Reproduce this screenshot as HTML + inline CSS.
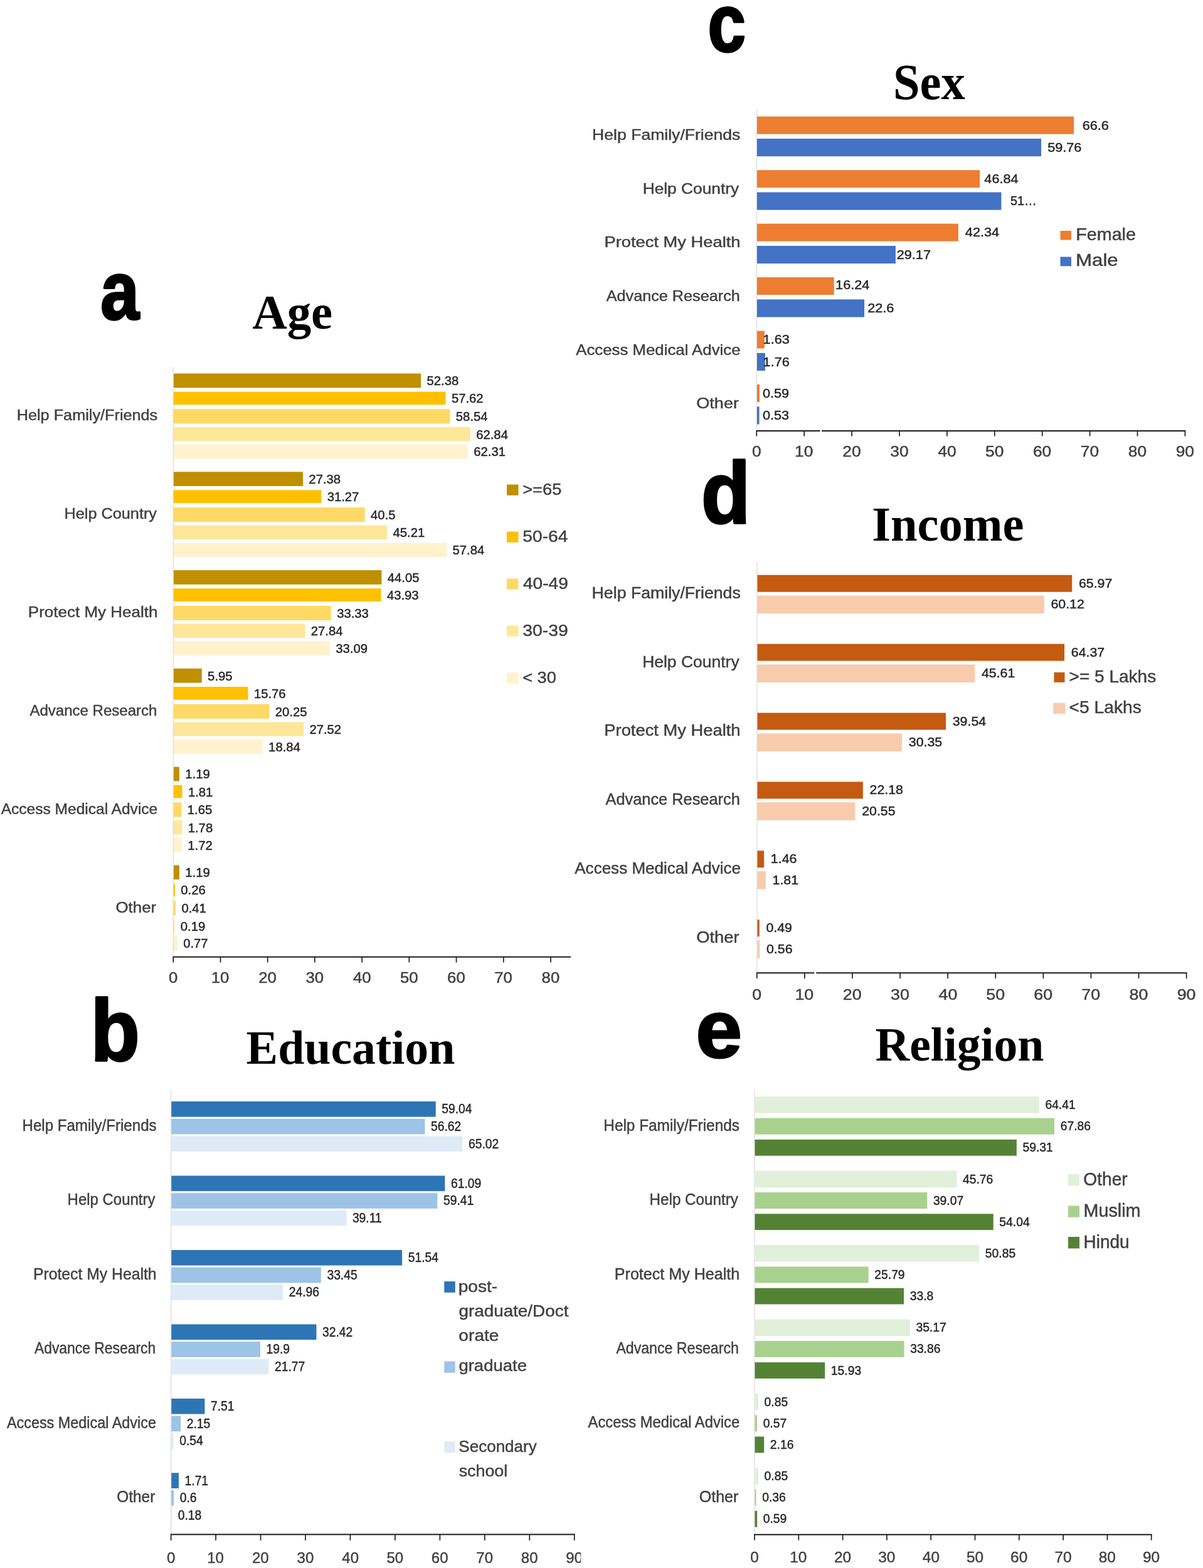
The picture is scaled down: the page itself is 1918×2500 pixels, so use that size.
<!DOCTYPE html>
<html lang="en">
<head>
<meta charset="utf-8">
<title>Figure: reasons by Age, Education, Sex, Income, Religion</title>
<style>
html,body{margin:0;padding:0;background:#fff;}
body{width:1918px;height:2500px;overflow:hidden;}
svg{display:block;}
text{white-space:pre;}
.sans{font-family:"Liberation Sans",sans-serif;stroke-width:0.45px;stroke-linejoin:round;}
.sansb{font-family:"Liberation Sans",sans-serif;font-weight:bold;}
.serifb{font-family:"Liberation Serif",serif;font-weight:bold;}
</style>
</head>
<body>
<svg width="1918" height="2500" viewBox="0 0 1918 2500">
<rect x="0" y="0" width="1918" height="2500" fill="#ffffff"/>
<g>
<line x1="276.25" y1="585" x2="276.25" y2="1525.75" stroke="#d9d9dc" stroke-width="1.2"/>
<rect x="277" y="595.5" width="394.11" height="22.75" fill="#BF8F00"/>
<text class="sans" transform="matrix(1.0279 0 0 1 680.5 614.28)" font-size="19.72" fill="#262626" stroke="#262626">52.38</text>
<rect x="277" y="624.6" width="433.54" height="20.7" fill="#FFC000"/>
<text class="sans" transform="matrix(1.0279 0 0 1 719.93 642.35)" font-size="19.72" fill="#262626" stroke="#262626">57.62</text>
<rect x="277" y="652.25" width="440.46" height="23.2" fill="#FFD966"/>
<text class="sans" transform="matrix(1.0279 0 0 1 726.85 671.25)" font-size="19.72" fill="#262626" stroke="#262626">58.54</text>
<rect x="277" y="680.9" width="472.82" height="22.4" fill="#FFE699"/>
<text class="sans" transform="matrix(1.0279 0 0 1 759.21 699.5)" font-size="19.72" fill="#262626" stroke="#262626">62.84</text>
<rect x="277" y="708.8" width="468.83" height="22.5" fill="#FFF2CC"/>
<text class="sans" transform="matrix(1.0279 0 0 1 755.22 727.45)" font-size="19.72" fill="#262626" stroke="#262626">62.31</text>
<rect x="277" y="752.3" width="205.98" height="22.75" fill="#BF8F00"/>
<text class="sans" transform="matrix(1.0279 0 0 1 492.37 771.08)" font-size="19.72" fill="#262626" stroke="#262626">27.38</text>
<rect x="277" y="781.4" width="235.26" height="20.7" fill="#FFC000"/>
<text class="sans" transform="matrix(1.0279 0 0 1 521.65 799.15)" font-size="19.72" fill="#262626" stroke="#262626">31.27</text>
<rect x="277" y="809.05" width="304.71" height="23.2" fill="#FFD966"/>
<text class="sans" transform="matrix(1.0279 0 0 1 591.1 828.05)" font-size="19.72" fill="#262626" stroke="#262626">40.5</text>
<rect x="277" y="837.7" width="340.16" height="22.4" fill="#FFE699"/>
<text class="sans" transform="matrix(1.0279 0 0 1 626.54 856.3)" font-size="19.72" fill="#262626" stroke="#262626">45.21</text>
<rect x="277" y="865.6" width="435.2" height="22.5" fill="#FFF2CC"/>
<text class="sans" transform="matrix(1.0279 0 0 1 721.59 884.25)" font-size="19.72" fill="#262626" stroke="#262626">57.84</text>
<rect x="277" y="909.1" width="331.43" height="22.75" fill="#BF8F00"/>
<text class="sans" transform="matrix(1.0279 0 0 1 617.82 927.88)" font-size="19.72" fill="#262626" stroke="#262626">44.05</text>
<rect x="277" y="938.2" width="330.52" height="20.7" fill="#FFC000"/>
<text class="sans" transform="matrix(1.0279 0 0 1 616.91 955.95)" font-size="19.72" fill="#262626" stroke="#262626">43.93</text>
<rect x="277" y="965.85" width="250.76" height="23.2" fill="#FFD966"/>
<text class="sans" transform="matrix(1.0279 0 0 1 537.15 984.85)" font-size="19.72" fill="#262626" stroke="#262626">33.33</text>
<rect x="277" y="994.5" width="209.45" height="22.4" fill="#FFE699"/>
<text class="sans" transform="matrix(1.0279 0 0 1 495.84 1013.1)" font-size="19.72" fill="#262626" stroke="#262626">27.84</text>
<rect x="277" y="1022.4" width="248.95" height="22.5" fill="#FFF2CC"/>
<text class="sans" transform="matrix(1.0279 0 0 1 535.34 1041.05)" font-size="19.72" fill="#262626" stroke="#262626">33.09</text>
<rect x="277" y="1065.9" width="44.72" height="22.75" fill="#BF8F00"/>
<text class="sans" transform="matrix(1.0279 0 0 1 331.11 1084.68)" font-size="19.72" fill="#262626" stroke="#262626">5.95</text>
<rect x="277" y="1095" width="118.54" height="20.7" fill="#FFC000"/>
<text class="sans" transform="matrix(1.0279 0 0 1 404.93 1112.75)" font-size="19.72" fill="#262626" stroke="#262626">15.76</text>
<rect x="277" y="1122.65" width="152.33" height="23.2" fill="#FFD966"/>
<text class="sans" transform="matrix(1.0279 0 0 1 438.72 1141.65)" font-size="19.72" fill="#262626" stroke="#262626">20.25</text>
<rect x="277" y="1151.3" width="207.04" height="22.4" fill="#FFE699"/>
<text class="sans" transform="matrix(1.0279 0 0 1 493.43 1169.9)" font-size="19.72" fill="#262626" stroke="#262626">27.52</text>
<rect x="277" y="1179.2" width="141.72" height="22.5" fill="#FFF2CC"/>
<text class="sans" transform="matrix(1.0279 0 0 1 428.11 1197.85)" font-size="19.72" fill="#262626" stroke="#262626">18.84</text>
<rect x="277" y="1222.7" width="8.9" height="22.75" fill="#BF8F00"/>
<text class="sans" transform="matrix(1.0279 0 0 1 295.29 1241.48)" font-size="19.72" fill="#262626" stroke="#262626">1.19</text>
<rect x="277" y="1251.8" width="13.57" height="20.7" fill="#FFC000"/>
<text class="sans" transform="matrix(1.0279 0 0 1 299.96 1269.55)" font-size="19.72" fill="#262626" stroke="#262626">1.81</text>
<rect x="277" y="1279.45" width="12.37" height="23.2" fill="#FFD966"/>
<text class="sans" transform="matrix(1.0279 0 0 1 298.76 1298.45)" font-size="19.72" fill="#262626" stroke="#262626">1.65</text>
<rect x="277" y="1308.1" width="13.34" height="22.4" fill="#FFE699"/>
<text class="sans" transform="matrix(1.0279 0 0 1 299.73 1326.7)" font-size="19.72" fill="#262626" stroke="#262626">1.78</text>
<rect x="277" y="1336" width="12.89" height="22.5" fill="#FFF2CC"/>
<text class="sans" transform="matrix(1.0279 0 0 1 299.28 1354.65)" font-size="19.72" fill="#262626" stroke="#262626">1.72</text>
<rect x="277" y="1379.5" width="8.9" height="22.75" fill="#BF8F00"/>
<text class="sans" transform="matrix(1.0279 0 0 1 295.29 1398.28)" font-size="19.72" fill="#262626" stroke="#262626">1.19</text>
<rect x="277" y="1408.6" width="1.91" height="20.7" fill="#FFC000"/>
<text class="sans" transform="matrix(1.0279 0 0 1 288.3 1426.35)" font-size="19.72" fill="#262626" stroke="#262626">0.26</text>
<rect x="277" y="1436.25" width="3.04" height="23.2" fill="#FFD966"/>
<text class="sans" transform="matrix(1.0279 0 0 1 289.42 1455.25)" font-size="19.72" fill="#262626" stroke="#262626">0.41</text>
<rect x="277" y="1464.9" width="1.38" height="22.4" fill="#FFE699"/>
<text class="sans" transform="matrix(1.0279 0 0 1 287.77 1483.5)" font-size="19.72" fill="#262626" stroke="#262626">0.19</text>
<rect x="277" y="1492.8" width="5.74" height="22.5" fill="#FFF2CC"/>
<text class="sans" transform="matrix(1.0279 0 0 1 292.13 1511.45)" font-size="19.72" fill="#262626" stroke="#262626">0.77</text>
<text class="sans" transform="matrix(1.0257 0 0 1 26.73 669.8)" font-size="24.64" fill="#404040" stroke="#404040">Help Family/Friends</text>
<text class="sans" transform="matrix(1.0262 0 0 1 102.48 826.75)" font-size="24.64" fill="#404040" stroke="#404040">Help Country</text>
<text class="sans" transform="matrix(1.0553 0 0 1 44.82 983.7)" font-size="24.64" fill="#404040" stroke="#404040">Protect My Health</text>
<text class="sans" transform="matrix(0.9763 0 0 1 47.4 1140.65)" font-size="24.64" fill="#404040" stroke="#404040">Advance Research</text>
<text class="sans" transform="matrix(0.9966 0 0 1 1.7 1297.6)" font-size="24.64" fill="#404040" stroke="#404040">Access Medical Advice</text>
<text class="sans" transform="matrix(1.048 0 0 1 184.54 1454.55)" font-size="24.64" fill="#404040" stroke="#404040">Other</text>
<line x1="275.45" y1="1525.75" x2="910" y2="1525.75" stroke="#1c1c1c" stroke-width="2"/>
<line x1="276.25" y1="1525.75" x2="276.25" y2="1534.5" stroke="#1c1c1c" stroke-width="1.7"/>
<text class="sans" transform="matrix(1.0885 0 0 1 269.04 1567.3)" font-size="23.66" fill="#404040" stroke="#404040">0</text>
<line x1="351.47" y1="1525.75" x2="351.47" y2="1534.5" stroke="#1c1c1c" stroke-width="1.7"/>
<text class="sans" transform="matrix(1.0885 0 0 1 336.66 1567.3)" font-size="23.66" fill="#404040" stroke="#404040">10</text>
<line x1="426.69" y1="1525.75" x2="426.69" y2="1534.5" stroke="#1c1c1c" stroke-width="1.7"/>
<text class="sans" transform="matrix(1.0885 0 0 1 412.2 1567.3)" font-size="23.66" fill="#404040" stroke="#404040">20</text>
<line x1="501.91" y1="1525.75" x2="501.91" y2="1534.5" stroke="#1c1c1c" stroke-width="1.7"/>
<text class="sans" transform="matrix(1.0885 0 0 1 487.55 1567.3)" font-size="23.66" fill="#404040" stroke="#404040">30</text>
<line x1="577.13" y1="1525.75" x2="577.13" y2="1534.5" stroke="#1c1c1c" stroke-width="1.7"/>
<text class="sans" transform="matrix(1.0885 0 0 1 563.03 1567.3)" font-size="23.66" fill="#404040" stroke="#404040">40</text>
<line x1="652.35" y1="1525.75" x2="652.35" y2="1534.5" stroke="#1c1c1c" stroke-width="1.7"/>
<text class="sans" transform="matrix(1.0885 0 0 1 637.99 1567.3)" font-size="23.66" fill="#404040" stroke="#404040">50</text>
<line x1="727.57" y1="1525.75" x2="727.57" y2="1534.5" stroke="#1c1c1c" stroke-width="1.7"/>
<text class="sans" transform="matrix(1.0885 0 0 1 713.08 1567.3)" font-size="23.66" fill="#404040" stroke="#404040">60</text>
<line x1="802.79" y1="1525.75" x2="802.79" y2="1534.5" stroke="#1c1c1c" stroke-width="1.7"/>
<text class="sans" transform="matrix(1.0885 0 0 1 788.3 1567.3)" font-size="23.66" fill="#404040" stroke="#404040">70</text>
<line x1="878.01" y1="1525.75" x2="878.01" y2="1534.5" stroke="#1c1c1c" stroke-width="1.7"/>
<text class="sans" transform="matrix(1.0885 0 0 1 863.59 1567.3)" font-size="23.66" fill="#404040" stroke="#404040">80</text>
<rect x="808" y="772.5" width="18.5" height="17.3" fill="#BF8F00"/>
<rect x="808" y="847.5" width="18.5" height="17.3" fill="#FFC000"/>
<rect x="808" y="922.5" width="18.5" height="17.3" fill="#FFD966"/>
<rect x="808" y="997.5" width="18.5" height="17.3" fill="#FFE699"/>
<rect x="808" y="1072.5" width="18.5" height="17.3" fill="#FFF2CC"/>
<text class="sans" transform="matrix(1.0304 0 0 1 833.14 788.6)" font-size="26.48" fill="#404040" stroke="#404040">&gt;=65</text>
<text class="sans" transform="matrix(1.0638 0 0 1 833.37 863.7)" font-size="26.48" fill="#404040" stroke="#404040">50-64</text>
<text class="sans" transform="matrix(1.0617 0 0 1 833.94 938.7)" font-size="26.48" fill="#404040" stroke="#404040">40-49</text>
<text class="sans" transform="matrix(1.0703 0 0 1 833.37 1013.7)" font-size="26.48" fill="#404040" stroke="#404040">30-39</text>
<text class="sans" transform="matrix(1.0291 0 0 1 833.14 1088.7)" font-size="26.48" fill="#404040" stroke="#404040">&lt; 30</text>
</g>
<g>
<line x1="272.75" y1="1737" x2="272.75" y2="2446.5" stroke="#d9d9dc" stroke-width="1.2"/>
<rect x="273.3" y="1756.1" width="421.41" height="24.6" fill="#2E75B6"/>
<text class="sans" transform="matrix(0.8996 0 0 1 704.34 1775.29)" font-size="21.41" fill="#262626" stroke="#262626">59.04</text>
<rect x="273.3" y="1783.8" width="404.11" height="24.6" fill="#9DC3E6"/>
<text class="sans" transform="matrix(0.8996 0 0 1 687.04 1802.99)" font-size="21.41" fill="#262626" stroke="#262626">56.62</text>
<rect x="273.3" y="1811.4" width="464.15" height="24.6" fill="#DEEBF7"/>
<text class="sans" transform="matrix(0.8996 0 0 1 747.08 1830.59)" font-size="21.41" fill="#262626" stroke="#262626">65.02</text>
<rect x="273.3" y="1874.55" width="436.06" height="24.6" fill="#2E75B6"/>
<text class="sans" transform="matrix(0.8996 0 0 1 718.99 1893.74)" font-size="21.41" fill="#262626" stroke="#262626">61.09</text>
<rect x="273.3" y="1902.25" width="424.05" height="24.6" fill="#9DC3E6"/>
<text class="sans" transform="matrix(0.8996 0 0 1 706.98 1921.44)" font-size="21.41" fill="#262626" stroke="#262626">59.41</text>
<rect x="273.3" y="1929.85" width="278.97" height="24.6" fill="#DEEBF7"/>
<text class="sans" transform="matrix(0.8996 0 0 1 561.9 1949.04)" font-size="21.41" fill="#262626" stroke="#262626">39.11</text>
<rect x="273.3" y="1993" width="367.81" height="24.6" fill="#2E75B6"/>
<text class="sans" transform="matrix(0.8996 0 0 1 650.74 2012.19)" font-size="21.41" fill="#262626" stroke="#262626">51.54</text>
<rect x="273.3" y="2020.7" width="238.52" height="24.6" fill="#9DC3E6"/>
<text class="sans" transform="matrix(0.8996 0 0 1 521.45 2039.89)" font-size="21.41" fill="#262626" stroke="#262626">33.45</text>
<rect x="273.3" y="2048.3" width="177.84" height="24.6" fill="#DEEBF7"/>
<text class="sans" transform="matrix(0.8996 0 0 1 460.77 2067.49)" font-size="21.41" fill="#262626" stroke="#262626">24.96</text>
<rect x="273.3" y="2111.45" width="231.16" height="24.6" fill="#2E75B6"/>
<text class="sans" transform="matrix(0.8996 0 0 1 514.09 2130.64)" font-size="21.41" fill="#262626" stroke="#262626">32.42</text>
<rect x="273.3" y="2139.15" width="141.68" height="24.6" fill="#9DC3E6"/>
<text class="sans" transform="matrix(0.8996 0 0 1 424.6 2158.34)" font-size="21.41" fill="#262626" stroke="#262626">19.9</text>
<rect x="273.3" y="2166.75" width="155.04" height="24.6" fill="#DEEBF7"/>
<text class="sans" transform="matrix(0.8996 0 0 1 437.97 2185.94)" font-size="21.41" fill="#262626" stroke="#262626">21.77</text>
<rect x="273.3" y="2229.9" width="53.12" height="24.6" fill="#2E75B6"/>
<text class="sans" transform="matrix(0.8996 0 0 1 336.05 2249.09)" font-size="21.41" fill="#262626" stroke="#262626">7.51</text>
<rect x="273.3" y="2257.6" width="14.82" height="24.6" fill="#9DC3E6"/>
<text class="sans" transform="matrix(0.8996 0 0 1 297.75 2276.79)" font-size="21.41" fill="#262626" stroke="#262626">2.15</text>
<rect x="273.3" y="2285.2" width="3.31" height="24.6" fill="#DEEBF7"/>
<text class="sans" transform="matrix(0.8996 0 0 1 286.24 2304.39)" font-size="21.41" fill="#262626" stroke="#262626">0.54</text>
<rect x="273.3" y="2348.35" width="11.67" height="24.6" fill="#2E75B6"/>
<text class="sans" transform="matrix(0.8996 0 0 1 294.6 2367.54)" font-size="21.41" fill="#262626" stroke="#262626">1.71</text>
<rect x="273.3" y="2376.05" width="3.74" height="24.6" fill="#9DC3E6"/>
<text class="sans" transform="matrix(0.8996 0 0 1 286.67 2395.24)" font-size="21.41" fill="#262626" stroke="#262626">0.6</text>
<rect x="273.3" y="2403.65" width="0.74" height="24.6" fill="#DEEBF7"/>
<text class="sans" transform="matrix(0.8996 0 0 1 283.67 2422.84)" font-size="21.41" fill="#262626" stroke="#262626">0.18</text>
<text class="sans" transform="matrix(0.9492 0 0 1 35.57 1803)" font-size="25.36" fill="#404040" stroke="#404040">Help Family/Friends</text>
<text class="sans" transform="matrix(0.9455 0 0 1 107.58 1921.4)" font-size="25.36" fill="#404040" stroke="#404040">Help Country</text>
<text class="sans" transform="matrix(0.9761 0 0 1 52.92 2039.8)" font-size="25.36" fill="#404040" stroke="#404040">Protect My Health</text>
<text class="sans" transform="matrix(0.9028 0 0 1 54.9 2158.2)" font-size="25.36" fill="#404040" stroke="#404040">Advance Research</text>
<text class="sans" transform="matrix(0.9233 0 0 1 10.9 2276.6)" font-size="25.36" fill="#404040" stroke="#404040">Access Medical Advice</text>
<text class="sans" transform="matrix(0.9615 0 0 1 186.3 2395)" font-size="25.36" fill="#404040" stroke="#404040">Other</text>
<line x1="271.95" y1="2446.5" x2="916.5" y2="2446.5" stroke="#1c1c1c" stroke-width="2"/>
<line x1="272.6" y1="2446.5" x2="272.6" y2="2456" stroke="#1c1c1c" stroke-width="1.7"/>
<text class="sans" transform="matrix(0.9682 0 0 1 265.88 2492.3)" font-size="24.79" fill="#404040" stroke="#404040">0</text>
<line x1="344.06" y1="2446.5" x2="344.06" y2="2456" stroke="#1c1c1c" stroke-width="1.7"/>
<text class="sans" transform="matrix(0.9682 0 0 1 330.26 2492.3)" font-size="24.79" fill="#404040" stroke="#404040">10</text>
<line x1="415.52" y1="2446.5" x2="415.52" y2="2456" stroke="#1c1c1c" stroke-width="1.7"/>
<text class="sans" transform="matrix(0.9682 0 0 1 402.02 2492.3)" font-size="24.79" fill="#404040" stroke="#404040">20</text>
<line x1="486.98" y1="2446.5" x2="486.98" y2="2456" stroke="#1c1c1c" stroke-width="1.7"/>
<text class="sans" transform="matrix(0.9682 0 0 1 473.6 2492.3)" font-size="24.79" fill="#404040" stroke="#404040">30</text>
<line x1="558.44" y1="2446.5" x2="558.44" y2="2456" stroke="#1c1c1c" stroke-width="1.7"/>
<text class="sans" transform="matrix(0.9682 0 0 1 545.3 2492.3)" font-size="24.79" fill="#404040" stroke="#404040">40</text>
<line x1="629.9" y1="2446.5" x2="629.9" y2="2456" stroke="#1c1c1c" stroke-width="1.7"/>
<text class="sans" transform="matrix(0.9682 0 0 1 616.52 2492.3)" font-size="24.79" fill="#404040" stroke="#404040">50</text>
<line x1="701.36" y1="2446.5" x2="701.36" y2="2456" stroke="#1c1c1c" stroke-width="1.7"/>
<text class="sans" transform="matrix(0.9682 0 0 1 687.86 2492.3)" font-size="24.79" fill="#404040" stroke="#404040">60</text>
<line x1="772.82" y1="2446.5" x2="772.82" y2="2456" stroke="#1c1c1c" stroke-width="1.7"/>
<text class="sans" transform="matrix(0.9682 0 0 1 759.32 2492.3)" font-size="24.79" fill="#404040" stroke="#404040">70</text>
<line x1="844.28" y1="2446.5" x2="844.28" y2="2456" stroke="#1c1c1c" stroke-width="1.7"/>
<text class="sans" transform="matrix(0.9682 0 0 1 830.84 2492.3)" font-size="24.79" fill="#404040" stroke="#404040">80</text>
<line x1="915.74" y1="2446.5" x2="915.74" y2="2456" stroke="#1c1c1c" stroke-width="1.7"/>
<text class="sans" transform="matrix(0.9682 0 0 1 902.3 2492.3)" font-size="24.79" fill="#404040" stroke="#404040">90</text>
<rect x="708.25" y="2043" width="17.5" height="17.8" fill="#2E75B6"/>
<rect x="708.25" y="2170.5" width="17.5" height="18.2" fill="#9DC3E6"/>
<rect x="708.25" y="2298" width="17.5" height="18.2" fill="#DEEBF7"/>
<text class="sans" transform="matrix(1.0598 0 0 1 730.67 2060)" font-size="26.55" fill="#404040" stroke="#404040">post-</text>
<text class="sans" transform="matrix(1.0498 0 0 1 731.39 2098.75)" font-size="26.55" fill="#404040" stroke="#404040">graduate/Doct</text>
<text class="sans" transform="matrix(1.0598 0 0 1 731.37 2137.5)" font-size="26.55" fill="#404040" stroke="#404040">orate</text>
<text class="sans" transform="matrix(1.0369 0 0 1 731.4 2186.25)" font-size="26.55" fill="#404040" stroke="#404040">graduate</text>
<text class="sans" transform="matrix(0.9806 0 0 1 731.33 2315)" font-size="26.55" fill="#404040" stroke="#404040">Secondary</text>
<text class="sans" transform="matrix(1.0109 0 0 1 731.69 2353.75)" font-size="26.55" fill="#404040" stroke="#404040">school</text>
<rect x="926.2" y="2464" width="16" height="36" fill="#ffffff"/>
</g>
<g>
<line x1="1206.5" y1="174.5" x2="1206.5" y2="686.9" stroke="#d9d9dc" stroke-width="1.2"/>
<rect x="1207" y="185.75" width="504.99" height="28" fill="#ED7D31"/>
<text class="sans" transform="matrix(1.1081 0 0 1 1725.67 206.5)" font-size="19.58" fill="#262626" stroke="#262626">66.6</text>
<rect x="1207" y="221.05" width="453.08" height="28.2" fill="#4472C4"/>
<text class="sans" transform="matrix(1.1081 0 0 1 1670.13 241.9)" font-size="19.58" fill="#262626" stroke="#262626">59.76</text>
<rect x="1207" y="271.2" width="355.02" height="28" fill="#ED7D31"/>
<text class="sans" transform="matrix(1.1081 0 0 1 1569.32 291.95)" font-size="19.58" fill="#262626" stroke="#262626">46.84</text>
<rect x="1207" y="306.5" width="389.47" height="28.2" fill="#4472C4"/>
<text class="sans" transform="matrix(1.0097 0 0 1 1610.96 327.35)" font-size="19.58" fill="#262626" stroke="#262626">51…</text>
<rect x="1207" y="356.65" width="320.86" height="28" fill="#ED7D31"/>
<text class="sans" transform="matrix(1.1081 0 0 1 1538.82 377.4)" font-size="19.58" fill="#262626" stroke="#262626">42.34</text>
<rect x="1207" y="391.95" width="220.9" height="28.2" fill="#4472C4"/>
<text class="sans" transform="matrix(1.1081 0 0 1 1429.67 412.8)" font-size="19.58" fill="#262626" stroke="#262626">29.17</text>
<rect x="1207" y="442.1" width="122.76" height="28" fill="#ED7D31"/>
<text class="sans" transform="matrix(1.1081 0 0 1 1332.12 461.35)" font-size="19.58" fill="#262626" stroke="#262626">16.24</text>
<rect x="1207" y="477.4" width="171.03" height="28.2" fill="#4472C4"/>
<text class="sans" transform="matrix(1.1081 0 0 1 1383.17 498.25)" font-size="19.58" fill="#262626" stroke="#262626">22.6</text>
<rect x="1207" y="527.55" width="11.87" height="28" fill="#ED7D31"/>
<text class="sans" transform="matrix(1.1081 0 0 1 1216.62 548.3)" font-size="19.58" fill="#262626" stroke="#262626">1.63</text>
<rect x="1207" y="562.85" width="12.86" height="28.2" fill="#4472C4"/>
<text class="sans" transform="matrix(1.1081 0 0 1 1216.62 583.7)" font-size="19.58" fill="#262626" stroke="#262626">1.76</text>
<rect x="1207" y="613" width="3.98" height="28" fill="#ED7D31"/>
<text class="sans" transform="matrix(1.1081 0 0 1 1215.88 633.75)" font-size="19.58" fill="#262626" stroke="#262626">0.59</text>
<rect x="1207" y="648.3" width="3.52" height="28.2" fill="#4472C4"/>
<text class="sans" transform="matrix(1.1081 0 0 1 1215.88 669.15)" font-size="19.58" fill="#262626" stroke="#262626">0.53</text>
<text class="sans" transform="matrix(1.1049 0 0 1 944.12 223.25)" font-size="24.06" fill="#404040" stroke="#404040">Help Family/Friends</text>
<text class="sans" transform="matrix(1.0942 0 0 1 1024.64 308.85)" font-size="24.06" fill="#404040" stroke="#404040">Help Country</text>
<text class="sans" transform="matrix(1.1351 0 0 1 963.57 394.45)" font-size="24.06" fill="#404040" stroke="#404040">Protect My Health</text>
<text class="sans" transform="matrix(1.0485 0 0 1 966.7 480.05)" font-size="24.06" fill="#404040" stroke="#404040">Advance Research</text>
<text class="sans" transform="matrix(1.0723 0 0 1 918.2 565.65)" font-size="24.06" fill="#404040" stroke="#404040">Access Medical Advice</text>
<text class="sans" transform="matrix(1.126 0 0 1 1110.28 651.25)" font-size="24.06" fill="#404040" stroke="#404040">Other</text>
<line x1="1205.6" y1="686.9" x2="1307.5" y2="686.9" stroke="#1c1c1c" stroke-width="2"/>
<line x1="1310" y1="686.9" x2="1890.2" y2="686.9" stroke="#1c1c1c" stroke-width="2"/>
<line x1="1206.3" y1="686.9" x2="1206.3" y2="695.5" stroke="#1c1c1c" stroke-width="1.7"/>
<text class="sans" transform="matrix(1.1267 0 0 1 1198.92 727.8)" font-size="23.38" fill="#404040" stroke="#404040">0</text>
<line x1="1282.2" y1="686.9" x2="1282.2" y2="695.5" stroke="#1c1c1c" stroke-width="1.7"/>
<text class="sans" transform="matrix(1.1267 0 0 1 1267.05 727.8)" font-size="23.38" fill="#404040" stroke="#404040">10</text>
<line x1="1358.1" y1="686.9" x2="1358.1" y2="695.5" stroke="#1c1c1c" stroke-width="1.7"/>
<text class="sans" transform="matrix(1.1267 0 0 1 1343.28 727.8)" font-size="23.38" fill="#404040" stroke="#404040">20</text>
<line x1="1434" y1="686.9" x2="1434" y2="695.5" stroke="#1c1c1c" stroke-width="1.7"/>
<text class="sans" transform="matrix(1.1267 0 0 1 1419.31 727.8)" font-size="23.38" fill="#404040" stroke="#404040">30</text>
<line x1="1509.9" y1="686.9" x2="1509.9" y2="695.5" stroke="#1c1c1c" stroke-width="1.7"/>
<text class="sans" transform="matrix(1.1267 0 0 1 1495.48 727.8)" font-size="23.38" fill="#404040" stroke="#404040">40</text>
<line x1="1585.8" y1="686.9" x2="1585.8" y2="695.5" stroke="#1c1c1c" stroke-width="1.7"/>
<text class="sans" transform="matrix(1.1267 0 0 1 1571.11 727.8)" font-size="23.38" fill="#404040" stroke="#404040">50</text>
<line x1="1661.7" y1="686.9" x2="1661.7" y2="695.5" stroke="#1c1c1c" stroke-width="1.7"/>
<text class="sans" transform="matrix(1.1267 0 0 1 1646.88 727.8)" font-size="23.38" fill="#404040" stroke="#404040">60</text>
<line x1="1737.6" y1="686.9" x2="1737.6" y2="695.5" stroke="#1c1c1c" stroke-width="1.7"/>
<text class="sans" transform="matrix(1.1267 0 0 1 1722.78 727.8)" font-size="23.38" fill="#404040" stroke="#404040">70</text>
<line x1="1813.5" y1="686.9" x2="1813.5" y2="695.5" stroke="#1c1c1c" stroke-width="1.7"/>
<text class="sans" transform="matrix(1.1267 0 0 1 1798.75 727.8)" font-size="23.38" fill="#404040" stroke="#404040">80</text>
<line x1="1889.4" y1="686.9" x2="1889.4" y2="695.5" stroke="#1c1c1c" stroke-width="1.7"/>
<text class="sans" transform="matrix(1.1267 0 0 1 1874.65 727.8)" font-size="23.38" fill="#404040" stroke="#404040">90</text>
<rect x="1690.5" y="368" width="17.5" height="14.5" fill="#ED7D31"/>
<rect x="1690.5" y="409.5" width="17.5" height="14.8" fill="#4472C4"/>
<text class="sans" transform="matrix(1.0576 0 0 1 1715.2 382.5)" font-size="27.17" fill="#404040" stroke="#404040">Female</text>
<text class="sans" transform="matrix(1.15 0 0 1 1715 423.75)" font-size="27.17" fill="#404040" stroke="#404040">Male</text>
</g>
<g>
<line x1="1207" y1="894.5" x2="1207" y2="1551.25" stroke="#d9d9dc" stroke-width="1.2"/>
<rect x="1207.5" y="916.75" width="501.73" height="27" fill="#C55A11"/>
<text class="sans" transform="matrix(1.0592 0 0 1 1719.98 936.7)" font-size="20.14" fill="#262626" stroke="#262626">65.97</text>
<rect x="1207.5" y="949.55" width="457.19" height="28.6" fill="#F8CBAD"/>
<text class="sans" transform="matrix(1.0592 0 0 1 1675.44 970.3)" font-size="20.14" fill="#262626" stroke="#262626">60.12</text>
<rect x="1207.5" y="1026.65" width="489.55" height="27" fill="#C55A11"/>
<text class="sans" transform="matrix(1.0592 0 0 1 1707.8 1046.6)" font-size="20.14" fill="#262626" stroke="#262626">64.37</text>
<rect x="1207.5" y="1059.45" width="346.73" height="28.6" fill="#F8CBAD"/>
<text class="sans" transform="matrix(1.0592 0 0 1 1564.98 1080.2)" font-size="20.14" fill="#262626" stroke="#262626">45.61</text>
<rect x="1207.5" y="1136.55" width="300.52" height="27" fill="#C55A11"/>
<text class="sans" transform="matrix(1.0592 0 0 1 1518.76 1156.5)" font-size="20.14" fill="#262626" stroke="#262626">39.54</text>
<rect x="1207.5" y="1169.35" width="230.55" height="28.6" fill="#F8CBAD"/>
<text class="sans" transform="matrix(1.0592 0 0 1 1448.8 1190.1)" font-size="20.14" fill="#262626" stroke="#262626">30.35</text>
<rect x="1207.5" y="1246.45" width="168.36" height="27" fill="#C55A11"/>
<text class="sans" transform="matrix(1.0592 0 0 1 1386.6 1266.4)" font-size="20.14" fill="#262626" stroke="#262626">22.18</text>
<rect x="1207.5" y="1279.25" width="155.95" height="28.6" fill="#F8CBAD"/>
<text class="sans" transform="matrix(1.0592 0 0 1 1374.19 1300)" font-size="20.14" fill="#262626" stroke="#262626">20.55</text>
<rect x="1207.5" y="1356.35" width="10.61" height="27" fill="#C55A11"/>
<text class="sans" transform="matrix(1.0592 0 0 1 1228.86 1376.3)" font-size="20.14" fill="#262626" stroke="#262626">1.46</text>
<rect x="1207.5" y="1389.15" width="13.28" height="28.6" fill="#F8CBAD"/>
<text class="sans" transform="matrix(1.0592 0 0 1 1231.53 1409.9)" font-size="20.14" fill="#262626" stroke="#262626">1.81</text>
<rect x="1207.5" y="1466.25" width="3.23" height="27" fill="#C55A11"/>
<text class="sans" transform="matrix(1.0592 0 0 1 1221.48 1486.2)" font-size="20.14" fill="#262626" stroke="#262626">0.49</text>
<rect x="1207.5" y="1499.05" width="3.76" height="28.6" fill="#F8CBAD"/>
<text class="sans" transform="matrix(1.0592 0 0 1 1222.01 1519.8)" font-size="20.14" fill="#262626" stroke="#262626">0.56</text>
<text class="sans" transform="matrix(1.0526 0 0 1 943.61 953.75)" font-size="25.36" fill="#404040" stroke="#404040">Help Family/Friends</text>
<text class="sans" transform="matrix(1.0448 0 0 1 1024.13 1063.6)" font-size="25.36" fill="#404040" stroke="#404040">Help Country</text>
<text class="sans" transform="matrix(1.078 0 0 1 963.31 1173.45)" font-size="25.36" fill="#404040" stroke="#404040">Protect My Health</text>
<text class="sans" transform="matrix(1.0002 0 0 1 965.5 1283.3)" font-size="25.36" fill="#404040" stroke="#404040">Advance Research</text>
<text class="sans" transform="matrix(1.0271 0 0 1 916.25 1393.15)" font-size="25.36" fill="#404040" stroke="#404040">Access Medical Advice</text>
<text class="sans" transform="matrix(1.0778 0 0 1 1110.27 1503)" font-size="25.36" fill="#404040" stroke="#404040">Other</text>
<line x1="1206" y1="1551.25" x2="1298.25" y2="1551.25" stroke="#1c1c1c" stroke-width="2"/>
<line x1="1301.25" y1="1551.25" x2="1892.4" y2="1551.25" stroke="#1c1c1c" stroke-width="2"/>
<line x1="1206.75" y1="1551.25" x2="1206.75" y2="1560" stroke="#1c1c1c" stroke-width="1.7"/>
<text class="sans" transform="matrix(1.1475 0 0 1 1199.24 1594)" font-size="23.38" fill="#404040" stroke="#404040">0</text>
<line x1="1282.85" y1="1551.25" x2="1282.85" y2="1560" stroke="#1c1c1c" stroke-width="1.7"/>
<text class="sans" transform="matrix(1.1475 0 0 1 1267.42 1594)" font-size="23.38" fill="#404040" stroke="#404040">10</text>
<line x1="1358.95" y1="1551.25" x2="1358.95" y2="1560" stroke="#1c1c1c" stroke-width="1.7"/>
<text class="sans" transform="matrix(1.1475 0 0 1 1343.86 1594)" font-size="23.38" fill="#404040" stroke="#404040">20</text>
<line x1="1435.05" y1="1551.25" x2="1435.05" y2="1560" stroke="#1c1c1c" stroke-width="1.7"/>
<text class="sans" transform="matrix(1.1475 0 0 1 1420.09 1594)" font-size="23.38" fill="#404040" stroke="#404040">30</text>
<line x1="1511.15" y1="1551.25" x2="1511.15" y2="1560" stroke="#1c1c1c" stroke-width="1.7"/>
<text class="sans" transform="matrix(1.1475 0 0 1 1496.46 1594)" font-size="23.38" fill="#404040" stroke="#404040">40</text>
<line x1="1587.25" y1="1551.25" x2="1587.25" y2="1560" stroke="#1c1c1c" stroke-width="1.7"/>
<text class="sans" transform="matrix(1.1475 0 0 1 1572.29 1594)" font-size="23.38" fill="#404040" stroke="#404040">50</text>
<line x1="1663.35" y1="1551.25" x2="1663.35" y2="1560" stroke="#1c1c1c" stroke-width="1.7"/>
<text class="sans" transform="matrix(1.1475 0 0 1 1648.26 1594)" font-size="23.38" fill="#404040" stroke="#404040">60</text>
<line x1="1739.45" y1="1551.25" x2="1739.45" y2="1560" stroke="#1c1c1c" stroke-width="1.7"/>
<text class="sans" transform="matrix(1.1475 0 0 1 1724.36 1594)" font-size="23.38" fill="#404040" stroke="#404040">70</text>
<line x1="1815.55" y1="1551.25" x2="1815.55" y2="1560" stroke="#1c1c1c" stroke-width="1.7"/>
<text class="sans" transform="matrix(1.1475 0 0 1 1800.53 1594)" font-size="23.38" fill="#404040" stroke="#404040">80</text>
<line x1="1891.65" y1="1551.25" x2="1891.65" y2="1560" stroke="#1c1c1c" stroke-width="1.7"/>
<text class="sans" transform="matrix(1.1475 0 0 1 1876.63 1594)" font-size="23.38" fill="#404040" stroke="#404040">90</text>
<rect x="1680.5" y="1072" width="17" height="16" fill="#C55A11"/>
<rect x="1679.25" y="1120.75" width="19.25" height="17.5" fill="#F8CBAD"/>
<text class="sans" transform="matrix(0.991 0 0 1 1704.6 1088.25)" font-size="28.26" fill="#404040" stroke="#404040">&gt;= 5 Lakhs</text>
<text class="sans" transform="matrix(0.9974 0 0 1 1704.59 1137)" font-size="28.26" fill="#404040" stroke="#404040">&lt;5 Lakhs</text>
</g>
<g>
<line x1="1203" y1="1737.5" x2="1203" y2="2446.75" stroke="#d9d9dc" stroke-width="1.2"/>
<rect x="1203.5" y="1748.3" width="453.27" height="26.6" fill="#E2EFDA"/>
<text class="sans" transform="matrix(0.9255 0 0 1 1666.4 1768.19)" font-size="20.85" fill="#262626" stroke="#262626">64.41</text>
<rect x="1203.5" y="1782.7" width="477.57" height="26" fill="#A9D18E"/>
<text class="sans" transform="matrix(0.9255 0 0 1 1690.7 1802.29)" font-size="20.85" fill="#262626" stroke="#262626">67.86</text>
<rect x="1203.5" y="1816.9" width="417.34" height="25.8" fill="#548235"/>
<text class="sans" transform="matrix(0.9255 0 0 1 1630.47 1836.39)" font-size="20.85" fill="#262626" stroke="#262626">59.31</text>
<rect x="1203.5" y="1866.7" width="321.88" height="26.6" fill="#E2EFDA"/>
<text class="sans" transform="matrix(0.9255 0 0 1 1535.01 1886.59)" font-size="20.85" fill="#262626" stroke="#262626">45.76</text>
<rect x="1203.5" y="1901.1" width="274.75" height="26" fill="#A9D18E"/>
<text class="sans" transform="matrix(0.9255 0 0 1 1487.88 1920.69)" font-size="20.85" fill="#262626" stroke="#262626">39.07</text>
<rect x="1203.5" y="1935.3" width="380.21" height="25.8" fill="#548235"/>
<text class="sans" transform="matrix(0.9255 0 0 1 1593.34 1954.79)" font-size="20.85" fill="#262626" stroke="#262626">54.04</text>
<rect x="1203.5" y="1985.1" width="357.74" height="26.6" fill="#E2EFDA"/>
<text class="sans" transform="matrix(0.9255 0 0 1 1570.87 2004.99)" font-size="20.85" fill="#262626" stroke="#262626">50.85</text>
<rect x="1203.5" y="2019.5" width="181.19" height="26" fill="#A9D18E"/>
<text class="sans" transform="matrix(0.9255 0 0 1 1394.32 2039.09)" font-size="20.85" fill="#262626" stroke="#262626">25.79</text>
<rect x="1203.5" y="2053.7" width="237.62" height="25.8" fill="#548235"/>
<text class="sans" transform="matrix(0.9255 0 0 1 1450.75 2073.19)" font-size="20.85" fill="#262626" stroke="#262626">33.8</text>
<rect x="1203.5" y="2103.5" width="247.27" height="26.6" fill="#E2EFDA"/>
<text class="sans" transform="matrix(0.9255 0 0 1 1460.4 2123.39)" font-size="20.85" fill="#262626" stroke="#262626">35.17</text>
<rect x="1203.5" y="2137.9" width="238.04" height="26" fill="#A9D18E"/>
<text class="sans" transform="matrix(0.9255 0 0 1 1451.17 2157.49)" font-size="20.85" fill="#262626" stroke="#262626">33.86</text>
<rect x="1203.5" y="2172.1" width="111.73" height="25.8" fill="#548235"/>
<text class="sans" transform="matrix(0.9255 0 0 1 1324.86 2191.59)" font-size="20.85" fill="#262626" stroke="#262626">15.93</text>
<rect x="1203.5" y="2221.9" width="5.49" height="26.6" fill="#E2EFDA"/>
<text class="sans" transform="matrix(0.9255 0 0 1 1218.62 2241.79)" font-size="20.85" fill="#262626" stroke="#262626">0.85</text>
<rect x="1203.5" y="2256.3" width="3.52" height="26" fill="#A9D18E"/>
<text class="sans" transform="matrix(0.9255 0 0 1 1216.64 2275.89)" font-size="20.85" fill="#262626" stroke="#262626">0.57</text>
<rect x="1203.5" y="2290.5" width="14.72" height="25.8" fill="#548235"/>
<text class="sans" transform="matrix(0.9255 0 0 1 1227.85 2309.99)" font-size="20.85" fill="#262626" stroke="#262626">2.16</text>
<rect x="1203.5" y="2340.3" width="5.49" height="26.6" fill="#E2EFDA"/>
<text class="sans" transform="matrix(0.9255 0 0 1 1218.62 2360.19)" font-size="20.85" fill="#262626" stroke="#262626">0.85</text>
<rect x="1203.5" y="2374.7" width="2.04" height="26" fill="#A9D18E"/>
<text class="sans" transform="matrix(0.9255 0 0 1 1215.16 2394.29)" font-size="20.85" fill="#262626" stroke="#262626">0.36</text>
<rect x="1203.5" y="2408.9" width="3.66" height="25.8" fill="#548235"/>
<text class="sans" transform="matrix(0.9255 0 0 1 1216.78 2428.39)" font-size="20.85" fill="#262626" stroke="#262626">0.59</text>
<text class="sans" transform="matrix(0.9616 0 0 1 962.3 1803)" font-size="25.36" fill="#404040" stroke="#404040">Help Family/Friends</text>
<text class="sans" transform="matrix(0.9557 0 0 1 1035.56 1921.3)" font-size="25.36" fill="#404040" stroke="#404040">Help Country</text>
<text class="sans" transform="matrix(0.9898 0 0 1 979.79 2039.6)" font-size="25.36" fill="#404040" stroke="#404040">Protect My Health</text>
<text class="sans" transform="matrix(0.9122 0 0 1 982.4 2157.9)" font-size="25.36" fill="#404040" stroke="#404040">Advance Research</text>
<text class="sans" transform="matrix(0.9369 0 0 1 937.6 2276.2)" font-size="25.36" fill="#404040" stroke="#404040">Access Medical Advice</text>
<text class="sans" transform="matrix(0.9889 0 0 1 1114.67 2394.5)" font-size="25.36" fill="#404040" stroke="#404040">Other</text>
<line x1="1202.2" y1="2446.75" x2="1836.6" y2="2446.75" stroke="#1c1c1c" stroke-width="2"/>
<line x1="1203" y1="2446.75" x2="1203" y2="2455.75" stroke="#1c1c1c" stroke-width="1.7"/>
<text class="sans" transform="matrix(0.9839 0 0 1 1196.17 2491.1)" font-size="24.79" fill="#404040" stroke="#404040">0</text>
<line x1="1273.3" y1="2446.75" x2="1273.3" y2="2455.75" stroke="#1c1c1c" stroke-width="1.7"/>
<text class="sans" transform="matrix(0.9839 0 0 1 1259.28 2491.1)" font-size="24.79" fill="#404040" stroke="#404040">10</text>
<line x1="1343.6" y1="2446.75" x2="1343.6" y2="2455.75" stroke="#1c1c1c" stroke-width="1.7"/>
<text class="sans" transform="matrix(0.9839 0 0 1 1329.88 2491.1)" font-size="24.79" fill="#404040" stroke="#404040">20</text>
<line x1="1413.9" y1="2446.75" x2="1413.9" y2="2455.75" stroke="#1c1c1c" stroke-width="1.7"/>
<text class="sans" transform="matrix(0.9839 0 0 1 1400.3 2491.1)" font-size="24.79" fill="#404040" stroke="#404040">30</text>
<line x1="1484.2" y1="2446.75" x2="1484.2" y2="2455.75" stroke="#1c1c1c" stroke-width="1.7"/>
<text class="sans" transform="matrix(0.9839 0 0 1 1470.85 2491.1)" font-size="24.79" fill="#404040" stroke="#404040">40</text>
<line x1="1554.5" y1="2446.75" x2="1554.5" y2="2455.75" stroke="#1c1c1c" stroke-width="1.7"/>
<text class="sans" transform="matrix(0.9839 0 0 1 1540.9 2491.1)" font-size="24.79" fill="#404040" stroke="#404040">50</text>
<line x1="1624.8" y1="2446.75" x2="1624.8" y2="2455.75" stroke="#1c1c1c" stroke-width="1.7"/>
<text class="sans" transform="matrix(0.9839 0 0 1 1611.08 2491.1)" font-size="24.79" fill="#404040" stroke="#404040">60</text>
<line x1="1695.1" y1="2446.75" x2="1695.1" y2="2455.75" stroke="#1c1c1c" stroke-width="1.7"/>
<text class="sans" transform="matrix(0.9839 0 0 1 1681.38 2491.1)" font-size="24.79" fill="#404040" stroke="#404040">70</text>
<line x1="1765.4" y1="2446.75" x2="1765.4" y2="2455.75" stroke="#1c1c1c" stroke-width="1.7"/>
<text class="sans" transform="matrix(0.9839 0 0 1 1751.74 2491.1)" font-size="24.79" fill="#404040" stroke="#404040">80</text>
<line x1="1835.7" y1="2446.75" x2="1835.7" y2="2455.75" stroke="#1c1c1c" stroke-width="1.7"/>
<text class="sans" transform="matrix(0.9839 0 0 1 1822.04 2491.1)" font-size="24.79" fill="#404040" stroke="#404040">90</text>
<rect x="1703" y="1872" width="18" height="18.5" fill="#E2EFDA"/>
<rect x="1703" y="1922.5" width="18" height="18.3" fill="#A9D18E"/>
<rect x="1703" y="1972" width="18" height="18.5" fill="#548235"/>
<text class="sans" transform="matrix(0.9721 0 0 1 1727.23 1890)" font-size="28.99" fill="#404040" stroke="#404040">Other</text>
<text class="sans" transform="matrix(0.9922 0 0 1 1727.45 1940)" font-size="28.99" fill="#404040" stroke="#404040">Muslim</text>
<text class="sans" transform="matrix(0.9657 0 0 1 1727.51 1990)" font-size="28.99" fill="#404040" stroke="#404040">Hindu</text>
</g>
<g>
<text class="serifb" transform="matrix(0.98 0 0 1 402.23 523.75)" font-size="78.41" fill="#000">Age</text>
<text class="serifb" transform="matrix(1.008 0 0 1 392.61 1696.25)" font-size="75.19" fill="#000">Education</text>
<text class="serifb" transform="matrix(0.9594 0 0 1 1424.09 158.2)" font-size="79.69" fill="#000">Sex</text>
<text class="serifb" transform="matrix(0.9804 0 0 1 1390.22 862.1)" font-size="78.02" fill="#000">Income</text>
<text class="serifb" transform="matrix(0.9819 0 0 1 1395.57 1691.25)" font-size="77.02" fill="#000">Religion</text>
</g>
<g>
<text class="sansb" transform="matrix(0.8403 0 0 1 160.27 509.08)" font-size="131.91" fill="#000" stroke="#000" stroke-width="3.2" stroke-linejoin="round" vector-effect="non-scaling-stroke">a</text>
<text class="sansb" transform="matrix(0.9217 0 0 1 144.52 1691.21)" font-size="139.12" fill="#000" stroke="#000" stroke-width="3.2" stroke-linejoin="round" vector-effect="non-scaling-stroke">b</text>
<text class="sansb" transform="matrix(0.8331 0 0 1 1128.5 82.49)" font-size="130.55" fill="#000" stroke="#000" stroke-width="3.2" stroke-linejoin="round" vector-effect="non-scaling-stroke">c</text>
<text class="sansb" transform="matrix(0.9223 0 0 1 1117.88 834.11)" font-size="138.91" fill="#000" stroke="#000" stroke-width="3.2" stroke-linejoin="round" vector-effect="non-scaling-stroke">d</text>
<text class="sansb" transform="matrix(1.0248 0 0 1 1109.61 1686.31)" font-size="129.09" fill="#000" stroke="#000" stroke-width="3.2" stroke-linejoin="round" vector-effect="non-scaling-stroke">e</text>
</g>
</svg>
</body>
</html>
